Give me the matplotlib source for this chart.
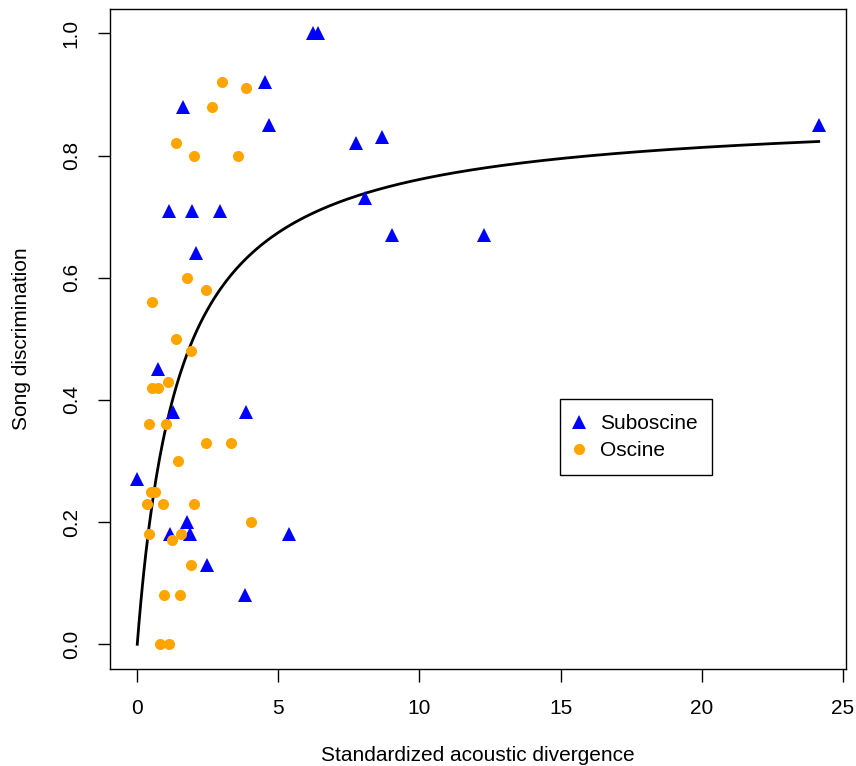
import matplotlib
matplotlib.use('Agg')
import matplotlib.pyplot as plt
import numpy as np

plt.rcParams['font.family'] = ['Liberation Sans', 'DejaVu Sans']

# Suboscine (blue triangles)
sub_x = [0.0, 0.74, 1.27, 1.13, 1.63, 1.94, 2.09, 2.93, 4.53, 4.67, 3.85,
         1.15, 1.77, 1.87, 2.48, 3.82, 5.37, 6.22, 6.40, 7.74, 8.66, 8.06,
         9.02, 12.27, 24.15]
sub_y = [0.27, 0.45, 0.38, 0.71, 0.88, 0.71, 0.64, 0.71, 0.92, 0.85, 0.38,
         0.18, 0.20, 0.18, 0.13, 0.08, 0.18, 1.00, 1.00, 0.82, 0.83, 0.73,
         0.67, 0.67, 0.85]

# Oscine (orange circles)
osc_x = [3.02, 3.87, 2.64, 1.37, 2.00, 3.57, 1.77, 2.44, 0.51, 1.38, 1.89,
         1.10, 0.53, 0.75, 0.41, 1.03, 2.45, 3.31, 1.46, 0.47, 0.62, 0.34,
         0.92, 2.00, 4.04, 0.40, 1.56, 1.22, 1.89, 0.93, 1.50, 0.81, 1.13]
osc_y = [0.92, 0.91, 0.88, 0.82, 0.80, 0.80, 0.60, 0.58, 0.56, 0.50, 0.48,
         0.43, 0.42, 0.42, 0.36, 0.36, 0.33, 0.33, 0.30, 0.25, 0.25, 0.23,
         0.23, 0.23, 0.20, 0.18, 0.18, 0.17, 0.13, 0.08, 0.08, 0.00, 0.00]

# fitted saturating curve y = a*x/(b+x)
fit_a = 0.8735
fit_b = 1.479
fit_xmax = 24.15

fig = plt.figure(figsize=(8.56, 7.66), dpi=100)
ax = fig.add_axes([110/856, 1 - 668.7/766, (846 - 110)/856, (668.7 - 9)/766])

xs = np.linspace(0, fit_xmax, 400)
ax.plot(xs, fit_a * xs / (fit_b + xs), color='black', lw=2, zorder=2)

ax.plot(sub_x, sub_y, linestyle='none', marker='^', color='#0000FF',
        markersize=9.5, markeredgewidth=0, label='Suboscine', zorder=3)
ax.plot(osc_x, osc_y, linestyle='none', marker='o', color='#FFA500',
        markersize=8, markeredgewidth=0, label='Oscine', zorder=3)

ax.set_xlim(-0.966, 25.116)
ax.set_ylim(-0.04, 1.04)
ax.set_xticks([0, 5, 10, 15, 20, 25])
ax.set_yticks([0.0, 0.2, 0.4, 0.6, 0.8, 1.0])
ax.set_yticklabels(['0.0', '0.2', '0.4', '0.6', '0.8', '1.0'], rotation=90, va='center')
ax.tick_params(direction='out', length=9, width=1, labelsize=15)
ax.tick_params(axis='x', pad=13)
ax.tick_params(axis='y', pad=12)
for s in ax.spines.values():
    s.set_linewidth(1)

ax.set_xlabel('Standardized acoustic divergence', fontsize=15, labelpad=20)
ax.set_ylabel('Song discrimination', fontsize=15, labelpad=22)

leg = ax.legend(loc='upper left', bbox_to_anchor=(560/856, 1 - 399.3/766),
                bbox_transform=fig.transFigure, fontsize=15, frameon=True,
                fancybox=False, edgecolor='black', framealpha=1,
                handlelength=0.42, handletextpad=0.8, borderpad=0.7,
                labelspacing=0.4, borderaxespad=0)
leg.get_frame().set_linewidth(1)

fig.savefig('out.png', dpi=100)
